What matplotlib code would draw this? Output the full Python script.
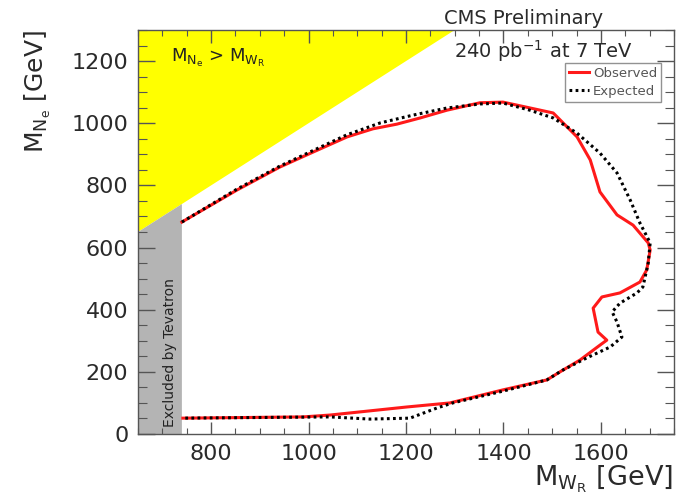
import matplotlib
matplotlib.use("Agg")
import matplotlib.pyplot as plt
from matplotlib.ticker import MultipleLocator

plt.rcParams['font.family'] = 'DejaVu Sans'
plt.rcParams['mathtext.fontset'] = 'custom'
plt.rcParams['mathtext.rm'] = 'DejaVu Sans'
plt.rcParams['mathtext.it'] = 'DejaVu Sans'

# observed limit contour (M_WR, M_Ne) in GeV
obs_x = [740, 853, 941, 1009, 1079, 1132, 1181, 1229, 1284, 1352, 1399, 1502,
         1551, 1578, 1598, 1633, 1666, 1697, 1701, 1694, 1680, 1639, 1602, 1584,
         1594, 1612, 1598, 1557, 1516, 1489, 1399, 1290, 1202, 1044, 989, 742]
obs_y = [682, 785, 859, 907, 956, 982, 997, 1017, 1042, 1066, 1068, 1033,
         956, 882, 779, 705, 672, 615, 592, 528, 489, 454, 441, 405,
         328, 302, 286, 238, 200, 174, 142, 100, 87, 61, 55, 51]

# expected limit contour
exp_x = [740, 853, 941, 1009, 1079, 1147, 1214, 1284, 1352, 1399, 1454, 1502,
         1551, 1598, 1633, 1660, 1680, 1701, 1697, 1686, 1674, 1639, 1623, 1633,
         1643, 1619, 1571, 1522, 1489, 1399, 1296, 1264, 1208, 1126, 1044, 742]
exp_y = [682, 788, 862, 912, 963, 1001, 1026, 1049, 1062, 1065, 1042, 1017,
         968, 904, 840, 753, 679, 615, 550, 473, 454, 421, 393, 360,
         312, 280, 245, 206, 174, 138, 100, 84, 51, 48, 55, 51]

tevatron_limit = 740
x_min, x_max = 650, 1750
y_min, y_max = 0, 1300

txt = '#2a2a2a'

fig = plt.figure(figsize=(6.85, 4.96), dpi=100)
ax = fig.add_axes([0.2015, 0.125, 0.7825, 0.8145])

# M_N > M_W region and Tevatron exclusion
ax.fill([x_min, y_max, x_min], [x_min, y_max, y_max], color='#ffff00', lw=0, zorder=1)
ax.fill([x_min, tevatron_limit, tevatron_limit, x_min],
        [0, 0, tevatron_limit, x_min], color='#b4b4b4', lw=0, zorder=1)

ax.plot(obs_x, obs_y, color='#ff1a1a', lw=2.2, label='Observed', zorder=3)
ax.plot(exp_x, exp_y, color='black', lw=2.2, linestyle=(0, (0.9, 1.1)),
        label='Expected', zorder=4)

ax.set_xlim(x_min, x_max)
ax.set_ylim(y_min, y_max)
ax.xaxis.set_major_locator(MultipleLocator(200))
ax.xaxis.set_minor_locator(MultipleLocator(50))
ax.yaxis.set_major_locator(MultipleLocator(200))
ax.yaxis.set_minor_locator(MultipleLocator(50))

ax.tick_params(axis='both', which='both', direction='in', top=True, right=True,
               colors='#555555', labelcolor=txt, labelsize=16)
ax.tick_params(axis='x', which='major', length=9, width=1, pad=7)
ax.tick_params(axis='x', which='minor', length=4.5, width=0.8)
ax.tick_params(axis='y', which='major', length=12, width=1, pad=7)
ax.tick_params(axis='y', which='minor', length=6.5, width=0.8)
for s in ax.spines.values():
    s.set_color('#555555')
    s.set_linewidth(1)

ax.set_xticks([800, 1000, 1200, 1400, 1600])

fig.text(0.982, 0.022, r'$\mathregular{M_{W_R}}$ [GeV]', ha='right', va='baseline',
         fontsize=19.5, color=txt)
fig.text(0.055, 0.94, r'$\mathregular{M_{N_e}}$ [GeV]', ha='center', va='top',
         rotation=90, fontsize=18, color=txt)

fig.text(0.765, 0.963, 'CMS Preliminary', ha='center', va='center', fontsize=14, color=txt)
ax.text(0.757, 0.948, r'240 pb$^{-1}$ at 7 TeV', transform=ax.transAxes,
        ha='center', va='center', fontsize=14, color=txt)
ax.text(0.062, 0.93, r'$\mathregular{M_{N_e}}$ > $\mathregular{M_{W_R}}$',
        transform=ax.transAxes, ha='left', va='center', fontsize=13, color='#222222')
ax.text(716, 22, 'Excluded by Tevatron', rotation=90, ha='center', va='bottom',
        fontsize=10, color='#222222', zorder=2)

leg = ax.legend(loc='upper right', bbox_to_anchor=(0.976, 0.918), fontsize=9.5,
                frameon=True, fancybox=False, handlelength=1.5, handletextpad=0.3,
                borderpad=0.3, labelspacing=0.35, borderaxespad=0)
leg.get_frame().set_edgecolor('#777777')
leg.get_frame().set_linewidth(1)
for t in leg.get_texts():
    t.set_color('#555555')

fig.savefig('out.png', dpi=100)
